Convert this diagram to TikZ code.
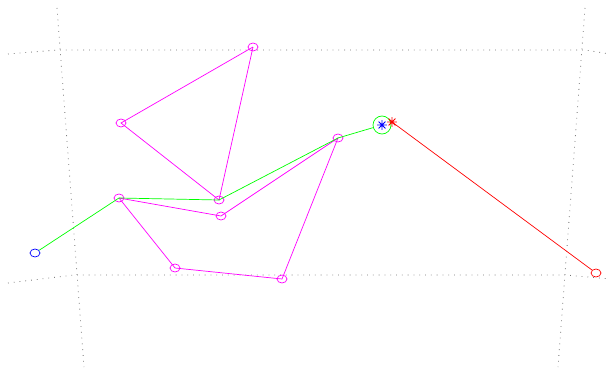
\documentclass[tikz,border=0pt]{standalone}
\usetikzlibrary{shapes.geometric}
\definecolor{mgnt}{RGB}{255,0,255}
\definecolor{grn}{RGB}{0,255,0}
\tikzset{
  grid line/.style = {black!55, line width=0.8pt, dash pattern=on 0.8pt off 5pt},
  ptmark/.style = {draw, ellipse, minimum width=10pt, minimum height=8pt, inner sep=0pt, line width=0.7pt},
  starmark/.style = {circle, minimum size=9pt, inner sep=0pt}
}
\newcommand{\astmark}[2]{%
  \draw[#2, line width=0.9pt] (#1.north) -- (#1.south) (#1.east) -- (#1.west)
    (#1.north east) -- (#1.south west) (#1.north west) -- (#1.south east);}
\begin{document}
\begin{tikzpicture}[x=1pt, y=-1pt, line width=0.7pt]
\useasboundingbox (0,0) rectangle (610,374);
% graticule
\draw[grid line] (8,54) -- (57,50) -- (585,50) -- (610,54);
\draw[grid line] (8,283) -- (74,275) -- (566,275) -- (610,279);
\draw[grid line] (57,8) -- (84,367);
\draw[grid line] (585,8) -- (558,367);
% points
\node[ptmark, mgnt] (p1) at (253,47) {};
\node[ptmark, mgnt] (p2) at (121,123) {};
\node[ptmark, mgnt] (p3) at (219,200) {};
\node[ptmark, mgnt] (p4) at (119,198) {};
\node[ptmark, mgnt] (p5) at (221,216) {};
\node[ptmark, mgnt] (p6) at (338,138) {};
\node[ptmark, mgnt] (p7) at (282,279) {};
\node[ptmark, mgnt] (p8) at (175,268) {};
\node[ptmark, blue] (start) at (35,253) {};
\node[ptmark, red] (goal) at (596,273) {};
\node[starmark] (bstar) at (382,125) {};
\node[starmark] (rstar) at (392,122) {};
\node[draw=grn, circle, minimum size=18pt, inner sep=0pt] (ring) at (bstar) {};
% magenta polygons
\draw[mgnt] (p1.center) -- (p2.center) -- (p3.center) -- (p1.center);
\draw[mgnt] (p4.center) -- (p5.center) -- (p6.center) -- (p7.center) -- (p8.center) -- (p4.center);
% green path
\draw[grn] (start) -- (p4.center) -- (p3.center) -- (p6.center) -- (ring);
% red line
\draw[red] (rstar.center) -- (goal);
\astmark{bstar}{blue}
\astmark{rstar}{red}
\end{tikzpicture}
\end{document}
